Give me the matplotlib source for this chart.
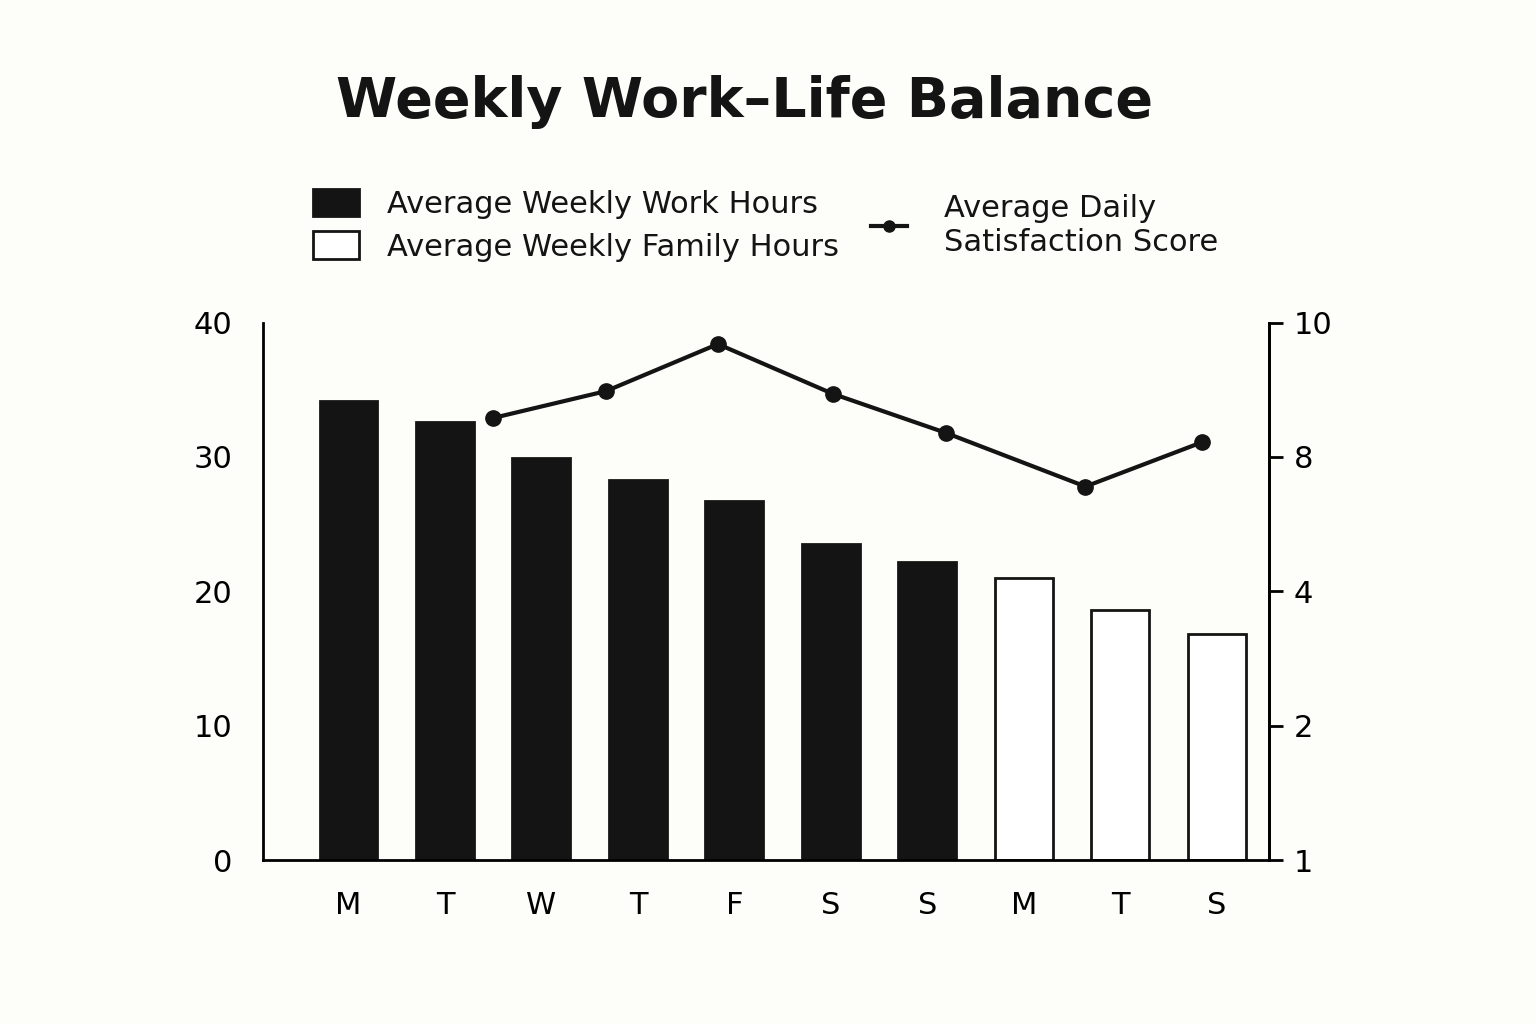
import matplotlib.pyplot as plt
import numpy as np
from matplotlib.patches import Patch
from matplotlib.lines import Line2D

days = ['M', 'T', 'W', 'T', 'F', 'S', 'S', 'M', 'T', 'S']
hours = [34.2, 32.6, 29.9, 28.3, 26.7, 23.5, 22.2, 21.0, 18.6, 16.8]
is_work = [True]*7 + [False]*3
# satisfaction line, drawn in left-axis units
score_x = [1.5, 2.67, 3.83, 5.02, 6.19, 7.64, 8.85]
score_y = [32.9, 34.9, 38.4, 34.7, 31.8, 27.8, 31.1]
right_ticks = ['1', '2', '4', '8', '10']

bg = '#fdfdf9'
ink = '#141414'
plt.rcParams['font.family'] = 'DejaVu Sans'

fig = plt.figure(figsize=(15.36, 10.24), dpi=100, facecolor=bg)
ax = fig.add_axes([0.171, 0.160, 0.655, 0.525], facecolor=bg)

x = np.arange(len(days))
for xi, h, w in zip(x, hours, is_work):
    ax.bar(xi, h, width=0.6, color=ink if w else 'white', edgecolor=ink, linewidth=2)
ax.plot(score_x, score_y, color=ink, lw=3, marker='o', ms=11, zorder=3)

ax.set_xlim(-0.89, 9.54)
ax.set_ylim(0, 40)
ax.set_yticks([0, 10, 20, 30, 40])
ax.set_xticks(x)
ax.set_xticklabels(days)
ax.spines['top'].set_visible(False)
for s in ['bottom', 'left', 'right']:
    ax.spines[s].set_linewidth(2)
ax.tick_params(axis='x', length=0, pad=22, labelsize=22)
ax.tick_params(axis='y', length=0, pad=22, labelsize=22)

ax2 = ax.twinx()
ax2.set_ylim(0, 40)
ax2.set_yticks([0, 10, 20, 30, 40])
ax2.set_yticklabels(right_ticks)
for s in ['top', 'left', 'bottom']:
    ax2.spines[s].set_visible(False)
ax2.spines['right'].set_linewidth(2)
ax2.tick_params(axis='y', length=10, width=2, labelsize=22, pad=8)

fig.text(0.485, 0.9, 'Weekly Work\u2013Life Balance', ha='center', va='center',
         fontsize=40, fontweight='bold', color=ink)

h1 = [Patch(facecolor=ink, edgecolor=ink, lw=2), Patch(facecolor='white', edgecolor=ink, lw=2)]
leg1 = fig.legend(h1, ['Average Weekly Work Hours', 'Average Weekly Family Hours'],
                  loc='center', bbox_to_anchor=(0.375, 0.78), frameon=False, fontsize=22,
                  handlelength=1.5, handleheight=1.0, labelspacing=0.4, handletextpad=0.9)
leg2 = fig.legend([Line2D([0], [0], color=ink, lw=3, marker='o', ms=8, markevery=[1])],
                  ['Average Daily\nSatisfaction Score'],
                  loc='center', bbox_to_anchor=(0.68, 0.78), frameon=False, fontsize=22,
                  handlelength=1.2, handletextpad=1.2)
for t in leg1.get_texts() + leg2.get_texts():
    t.set_color(ink)

fig.savefig('out.png', dpi=100, facecolor=bg)
